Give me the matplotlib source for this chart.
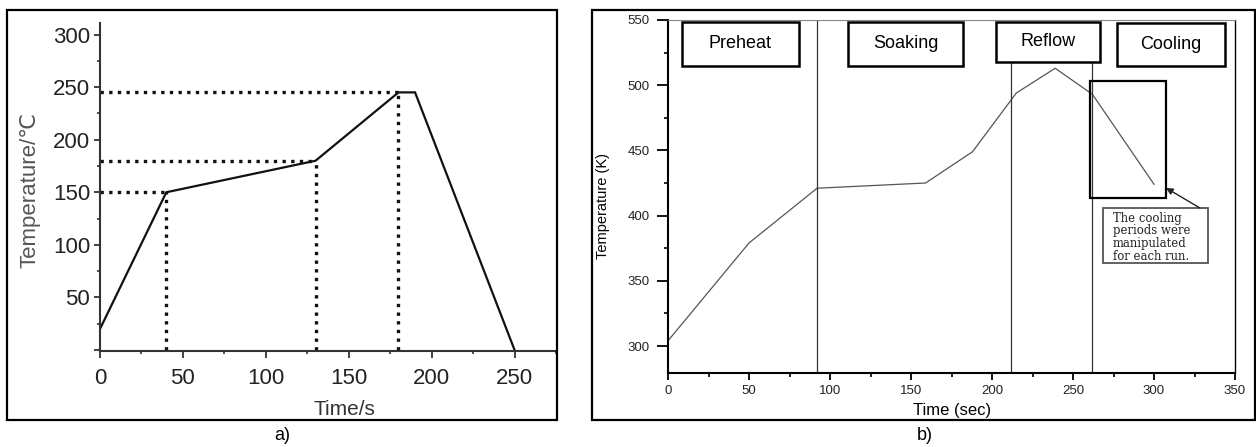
import matplotlib.pyplot as plt
from matplotlib.patches import Rectangle
from matplotlib.ticker import MultipleLocator

# panel a) reflow profile
a_time = [0, 40, 130, 180, 190, 250]
a_temp = [20, 150, 180, 245, 245, 0]
a_mark_time = [40, 130, 180]
a_mark_temp = [150, 180, 245]

# panel b) measured profile
b_time = [0, 50, 92, 159, 188, 215, 239, 262, 300]
b_temp = [304, 379, 421, 425, 449, 494, 513, 493, 424]
b_bounds = [92, 212, 262]
b_phases = ["Preheat", "Soaking", "Reflow", "Cooling"]
b_note = "The cooling\nperiods were\nmanipulated\nfor each run."

W, H = 1256, 447
fig = plt.figure(figsize=(W / 100, H / 100), dpi=100)


def px_axes(x0, y0, x1, y1):
    return fig.add_axes([x0 / W, 1 - y1 / H, (x1 - x0) / W, (y1 - y0) / H])


def frame(x0, y0, x1, y1):
    fig.patches.append(Rectangle((x0 / W, 1 - y1 / H), (x1 - x0) / W, (y1 - y0) / H,
                                 transform=fig.transFigure, fill=False, lw=1.6,
                                 ec="black", zorder=5))


# ---- a)
ax = px_axes(100, 23, 556, 351)
ax.plot(a_time, a_temp, color="#111111", lw=1.6, solid_joinstyle="miter")
ax.hlines(a_mark_temp, 0, a_mark_time, colors="#111111", lw=2.4, linestyles=(0, (1, 1.6)))
ax.vlines(a_mark_time, 0, a_mark_temp, colors="#111111", lw=2.4, linestyles=(0, (1, 1.6)))
ax.set_xlim(0, 275)
ax.set_ylim(-1, 311)
ax.set_yticks([0, 50, 100, 150, 200, 250, 300], ["", "50", "100", "150", "200", "250", "300"])
ax.set_xticks([0, 50, 100, 150, 200, 250])
ax.xaxis.set_minor_locator(MultipleLocator(25))
ax.yaxis.set_minor_locator(MultipleLocator(25))
for s in ("top", "right"):
    ax.spines[s].set_visible(False)
for s in ("left", "bottom"):
    ax.spines[s].set_linewidth(1.5)
    ax.spines[s].set_color("#333333")
ax.tick_params(axis="both", which="major", labelsize=16, labelcolor="#222222",
               color="#333333", width=1.3, direction="out")
ax.tick_params(axis="y", which="major", length=4, pad=3)
ax.tick_params(axis="x", which="major", length=5, pad=7)
ax.tick_params(which="minor", length=2.5, width=1.2, color="#333333")
for t in ax.get_xticklabels() + ax.get_yticklabels():
    t.set_family("Liberation Sans")

fig.text(30 / W, 1 - 190 / H, "Temperature/\u2103", rotation=90, ha="center", va="center",
         fontsize=16, color="#555555", family=["Liberation Sans", "DejaVu Sans"])
fig.text(344 / W, 1 - 400 / H, "Time/s", ha="center", va="top", fontsize=15,
         color="#333333", family="Liberation Sans")
fig.text(282 / W, 1 - 436 / H, "a)", ha="center", va="center", fontsize=13,
         family="Liberation Sans")
frame(7, 10, 557, 420)

# ---- b)
bx = px_axes(668, 20, 1235, 373)
bx.plot(b_time, b_temp, color="#555555", lw=0.9)
bx.set_xlim(0, 350)
bx.set_ylim(279.3, 550)
bx.set_xticks(range(0, 351, 50))
bx.set_yticks(range(300, 551, 50))
bx.xaxis.set_minor_locator(MultipleLocator(25))
bx.yaxis.set_minor_locator(MultipleLocator(25))
bx.spines["left"].set_linewidth(1.5)
bx.spines["bottom"].set_linewidth(1.5)
bx.spines["right"].set_linewidth(1.0)
bx.spines["top"].set_linewidth(0.8)
bx.spines["top"].set_color("#888888")
bx.tick_params(which="major", labelsize=9.5, labelcolor="#222222", width=1.3, direction="out")
bx.tick_params(axis="y", which="major", length=8, pad=5)
bx.tick_params(axis="x", which="major", length=5, pad=4)
bx.tick_params(which="minor", length=3, width=1.2)
for t in bx.get_xticklabels() + bx.get_yticklabels():
    t.set_family("Liberation Sans")

# phase boundaries
bx.vlines(b_bounds[0], 279.3, 550, colors="#333333", lw=0.9)
bx.vlines(b_bounds[1:], 279.3, 517.8, colors="#333333", lw=0.9)

# phase label boxes (x0, x1, y0, y1 in data units)
box_ext = [(8.6, 80.9, 514.7, 548.5), (111, 182.1, 514.7, 548.5),
           (202.5, 266.7, 517.8, 548.5), (277.2, 343.8, 514.7, 547.7)]
for name, (x0, x1, y0, y1) in zip(b_phases, box_ext):
    bx.add_patch(Rectangle((x0, y0), x1 - x0, y1 - y0, fill=True, fc="white",
                           ec="black", lw=1.8, zorder=4))
    bx.text((x0 + x1) / 2, (y0 + y1) / 2, name, ha="center", va="center", fontsize=13,
            family="Liberation Sans", zorder=5)

# cooling highlight and note
bx.add_patch(Rectangle((260.5, 413.5), 307.4 - 260.5, 503.2 - 413.5, fill=False,
                       ec="black", lw=1.6, zorder=4))
bx.add_patch(Rectangle((268.5, 363.7), 333.3 - 268.5, 405.8 - 363.7, fc="white",
                       ec="#555555", lw=1.3, zorder=4))
bx.text(274.5, 403.0, b_note, ha="left", va="top", fontsize=8.4, family="DejaVu Serif",
        color="#222222", linespacing=0.98, zorder=5)
bx.annotate("", xy=(307.4, 421.2), xytext=(328.4, 405.8),
            arrowprops=dict(arrowstyle="-|>", color="#222222", lw=1.0,
                            mutation_scale=10, shrinkA=0, shrinkB=0), zorder=5)

fig.text(603 / W, 1 - 206 / H, "Temperature (K)", rotation=90, ha="center", va="center",
         fontsize=10.5, family="Liberation Sans")
fig.text(952 / W, 1 - 411 / H, "Time (sec)", ha="center", va="center", fontsize=12,
         family="Liberation Sans")
fig.text(925 / W, 1 - 436 / H, "b)", ha="center", va="center", fontsize=13,
         family="Liberation Sans")
frame(592, 10, 1255, 420)

fig.savefig("out.png", dpi=100)
